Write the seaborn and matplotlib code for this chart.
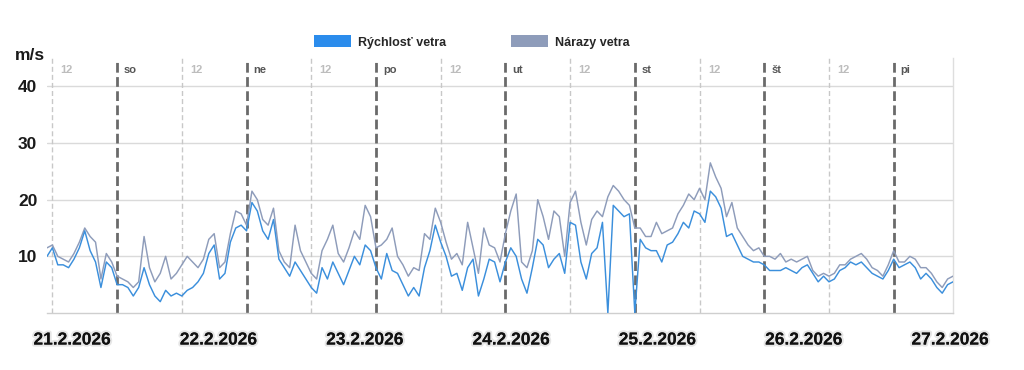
import numpy as np
import pandas as pd
import matplotlib
matplotlib.use("Agg")
import matplotlib.pyplot as plt
import matplotlib.patheffects as pe
from matplotlib.patches import Patch
import seaborn as sns

# ---------------- data (hourly) ----------------
start_time = "2026-02-20 11:00"

wind_speed = [
    10, 11.5, 8.5, 8.5, 8, 9.5, 11.5, 14.5, 11, 9, 4.5, 9, 8,
    5, 5, 4.5, 3, 4.5, 8, 5, 3, 2, 4, 3, 3.5, 3, 4, 4.5, 5.5,
    7, 10.5, 12, 6, 7, 12.5, 15, 15.5, 14.5, 19.5, 18, 14.5, 13, 16.5,
    9.5, 8, 6.5, 9, 7.5, 6, 4.5, 3.5, 8, 6, 9, 7, 5, 7.5,
    10, 8.5, 12, 11, 8, 6, 10.5, 7.5, 7, 5, 3, 4.5, 3, 8,
    11, 15.5, 12.5, 10, 6.5, 7, 4, 8, 9.5, 3, 6, 9.5, 9, 5.5,
    9, 11.5, 10, 6, 3.5, 8, 13, 12, 8, 9.5, 10.5, 7, 16, 15.5,
    9, 6, 10.5, 11.5, 16, 0, 19, 18, 17, 17.5, 0, 13, 11.5, 11,
    11, 9, 12, 12.5, 14, 16, 15, 18, 17.5, 16, 21.5, 20.5, 18.5, 13.5,
    14, 12, 10, 9.5, 9, 9, 8.5, 7.5, 7.5, 7.5, 8, 7.5, 7, 8,
    8.5, 7, 5.5, 6.5, 5.5, 6, 7.5, 8, 9, 8.5, 9, 8, 7, 6.5,
    6, 7.5, 9.5, 8, 8.5, 9, 8, 6, 7, 6, 4.5, 3.5, 5, 5.5,
]

wind_gust = [
    11.5, 12, 10, 9.5, 9, 10.5, 12.5, 15, 13.5, 12.5, 6, 10.5, 9,
    6.5, 6, 5.5, 4.5, 5.5, 13.5, 8, 5.5, 7, 10, 6, 7, 8.5, 10, 9, 8,
    9.5, 13, 14, 8, 9, 14, 18, 17.5, 15.5, 21.5, 20, 16.5, 15.5, 18.5,
    11, 9, 8, 15.5, 11, 9, 7, 6, 11, 13, 15.5, 10.5, 9, 11.5,
    14.5, 13, 19, 17, 11.5, 12, 13, 15, 10, 8.5, 6.5, 8, 7.5, 14,
    13, 18.5, 16, 12.5, 9.5, 10.5, 8.5, 16, 11.5, 7, 15, 12, 11.5, 9,
    14, 18, 21, 9, 8, 11, 20, 17, 13, 18, 17, 10, 19.5, 21.5,
    16, 12, 16.5, 18, 17, 20.5, 22.5, 21.5, 20, 19, 15, 15, 13.5, 13.5,
    16, 14, 14.5, 15, 17.5, 19, 21, 20, 22, 20, 26.5, 24, 22, 17,
    19.5, 15, 13.5, 12, 11, 11.5, 10, 10, 9.5, 10.5, 9, 9.5, 9, 9.5,
    10, 7.5, 6.5, 7, 6.5, 7, 8.5, 8.5, 9.5, 10, 10.5, 9.5, 8, 7.5,
    6.5, 8.5, 11, 9, 9, 10, 9.5, 8, 8, 7, 5.5, 4.5, 6, 6.5,
]

series_names = ["Rýchlosť vetra", "Nárazy vetra"]
y_ticks = [10, 20, 30, 40]
y_unit = "m/s"
day_names = ["so", "ne", "po", "ut", "st", "št", "pi"]
noon_label = "12"
date_labels = ["21.2.2026", "22.2.2026", "23.2.2026", "24.2.2026",
               "25.2.2026", "26.2.2026", "27.2.2026"]

assert len(wind_speed) == len(wind_gust)
times = pd.date_range(start_time, periods=len(wind_speed), freq="h")
df = pd.DataFrame({"time": times, "speed": wind_speed, "gust": wind_gust})

# ---------------- style ----------------
sns.set_style("white")
plt.rcParams["font.family"] = ["Liberation Sans", "DejaVu Sans"]

BLUE = "#3b8fdc"
BLUE_LEG = "#2b8cec"
GRAY = "#8e9cba"

fig = plt.figure(figsize=(10.24, 3.70), dpi=100)
ax = fig.add_axes([47 / 1024, 1 - 313 / 370, 906 / 1024, 255 / 370])

# vertical day / noon separators
midnights = pd.date_range("2026-02-21", periods=7, freq="D")
noons = pd.date_range("2026-02-20 12:00", periods=7, freq="D")
for t in noons:
    ax.axvline(t, color="#c8c8c8", lw=1.0, ls=(0, (3.6, 2.2)), zorder=1)
    ax.annotate(noon_label, xy=(t, 0.953), xycoords=("data", "axes fraction"),
                xytext=(6, 0), textcoords="offset points", va="center", ha="left",
                fontsize=8, fontweight="bold", color="#bdbdbd")
for t, name in zip(midnights, day_names):
    ax.axvline(t, color="#6a6a6a", lw=2.0, ls=(0, (3.5, 1.6)), zorder=1)
    ax.annotate(name, xy=(t, 0.953), xycoords=("data", "axes fraction"),
                xytext=(5, 0), textcoords="offset points", va="center", ha="left",
                fontsize=8, fontweight="bold", color="#555555")

# lines
sns.lineplot(data=df, x="time", y="gust", ax=ax, color=GRAY, lw=1.05, zorder=3)
sns.lineplot(data=df, x="time", y="speed", ax=ax, color=BLUE, lw=1.05, zorder=4)

ax.set_xlim(times[0], times[-1])
ax.set_ylim(0, 45)
ax.set_xlabel("")
ax.set_ylabel("")

# y axis
ax.set_yticks(y_ticks)
ax.set_yticklabels([str(v) for v in y_ticks], fontsize=12.5, fontweight="bold",
                   color="#1a1a1a")
ax.tick_params(axis="y", length=0, pad=7)
ax.grid(axis="y", color="#dadada", lw=1.0)
ax.set_axisbelow(True)

# x axis ticks (small marks only)
ax.set_xticks(pd.date_range(start_time, periods=8, freq="D"))
ax.set_xticklabels([""] * 8)
ax.tick_params(axis="x", length=5, color="#cfcfcf", width=1)

for s in ["left", "top"]:
    ax.spines[s].set_visible(False)
ax.spines["bottom"].set_color("#cfcfcf")
ax.spines["right"].set_color("#dedede")
ax.spines["bottom"].set_linewidth(1)
ax.spines["right"].set_linewidth(1)

# date labels under the axis
for xf, lab in zip(np.linspace(0.028, 0.997, len(date_labels)), date_labels):
    t = ax.text(xf, -0.106, lab, transform=ax.transAxes, ha="center", va="center",
                fontsize=12.5, fontweight="bold", color="#111111")
    t.set_path_effects([pe.withStroke(linewidth=3, foreground="#e6e6e6"), pe.Normal()])

# unit label
fig.text(15 / 1024, 1 - 55 / 370, y_unit, ha="left", va="center",
         fontsize=12.5, fontweight="bold", color="#1a1a1a")

# legend
handles = [Patch(facecolor=BLUE_LEG, edgecolor="none"),
           Patch(facecolor=GRAY, edgecolor="none")]
fig.legend(handles, series_names, loc="center", bbox_to_anchor=(472 / 1024, 1 - 42 / 370),
           ncol=2, frameon=False, handlelength=2.9, handleheight=1.05,
           handletextpad=0.6, columnspacing=5.2,
           prop={"size": 9, "weight": "bold"})

fig.savefig("out.png", dpi=100, facecolor="white")
